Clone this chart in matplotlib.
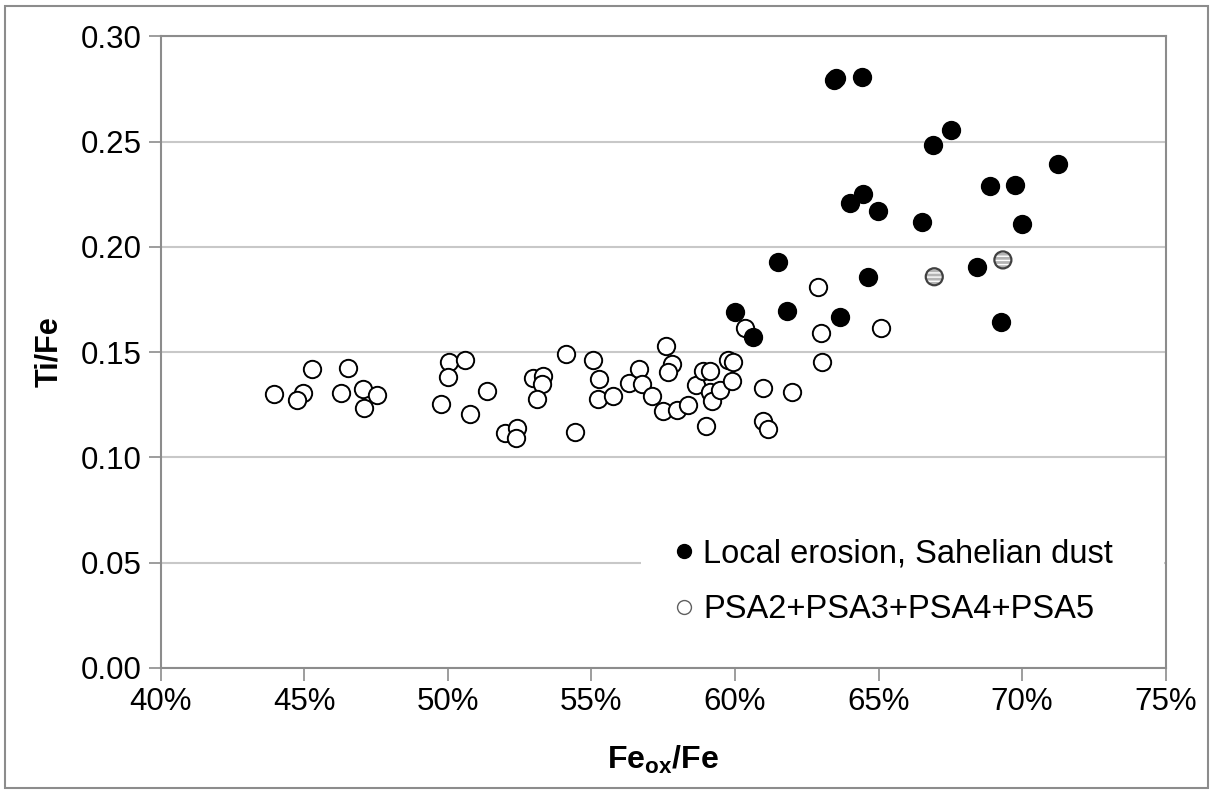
import matplotlib

matplotlib.use("Agg")

import matplotlib.pyplot as plt
from matplotlib.lines import Line2D
from matplotlib.patches import Rectangle
from matplotlib.ticker import FormatStrFormatter, PercentFormatter

plt.rcParams["font.family"] = ["Liberation Sans", "DejaVu Sans"]
plt.rcParams["mathtext.fontset"] = "custom"
plt.rcParams["mathtext.rm"] = "Liberation Sans"
plt.rcParams["mathtext.bf"] = "Liberation Sans:bold"

# Local erosion, Sahelian dust (filled)
fe_ox_local = [63.45, 63.51, 64.42, 67.53, 66.91, 71.26, 68.89, 69.76, 64.01, 64.45,
               64.99, 66.53, 69.99, 61.49, 64.63, 68.44, 69.26, 60.00, 61.80, 63.66,
               60.64]
ti_fe_local = [0.2795, 0.2801, 0.2809, 0.2556, 0.2484, 0.2394, 0.2291, 0.2294, 0.2210, 0.2251,
               0.2172, 0.2120, 0.2109, 0.1930, 0.1858, 0.1903, 0.1642, 0.1689, 0.1697, 0.1668,
               0.1573]

# PSA2+PSA3+PSA4+PSA5 (open)
fe_ox_psa = [43.95, 45.26, 44.95, 44.76, 46.53, 46.28, 47.06, 47.52, 47.08, 50.05,
             50.60, 50.01, 51.38, 49.75, 50.77, 54.11, 52.96, 53.33, 53.27, 53.10,
             51.99, 52.40, 52.36, 54.43, 55.07, 55.28, 55.24, 55.74, 56.32, 56.66,
             56.75, 57.12, 57.60, 57.80, 57.66, 57.51, 57.99, 58.38, 58.63, 58.90,
             59.13, 59.13, 59.19, 59.48, 58.99, 59.75, 59.92, 59.91, 60.99, 60.97,
             61.14, 62.00, 63.00, 63.02, 60.35, 65.09, 62.88]
ti_fe_psa = [0.1301, 0.1420, 0.1304, 0.1272, 0.1424, 0.1304, 0.1325, 0.1298, 0.1236, 0.1454,
             0.1462, 0.1383, 0.1317, 0.1253, 0.1204, 0.1491, 0.1375, 0.1388, 0.1347, 0.1277,
             0.1114, 0.1138, 0.1090, 0.1119, 0.1462, 0.1372, 0.1276, 0.1291, 0.1352, 0.1420,
             0.1347, 0.1291, 0.1530, 0.1443, 0.1404, 0.1221, 0.1225, 0.1249, 0.1344, 0.1412,
             0.1412, 0.1312, 0.1268, 0.1320, 0.1150, 0.1462, 0.1452, 0.1364, 0.1328, 0.1173,
             0.1133, 0.1309, 0.1589, 0.1454, 0.1613, 0.1613, 0.1808]

# two striped (grey) points, not in legend
fe_ox_mixed = [66.94, 69.33]
ti_fe_mixed = [0.1858, 0.1938]

x_ticks = [40, 45, 50, 55, 60, 65, 70, 75]
y_ticks = [0.00, 0.05, 0.10, 0.15, 0.20, 0.25, 0.30]

fig = plt.figure(figsize=(12.13, 7.93), dpi=100)
ax = fig.add_axes([0.1325, 0.158, 0.8285, 0.796])

ax.set_xlim(40, 75)
ax.set_ylim(0, 0.30)
ax.set_xticks(x_ticks)
ax.set_yticks(y_ticks)
ax.xaxis.set_major_formatter(PercentFormatter(xmax=100, decimals=0))
ax.yaxis.set_major_formatter(FormatStrFormatter("%.2f"))

ax.grid(axis="y", color="#c8c8c8", linewidth=1.5)
ax.set_axisbelow(True)
for side in ("left", "bottom", "top", "right"):
    ax.spines[side].set_color("#8c8c8c")
    ax.spines[side].set_linewidth(1.5)
ax.tick_params(axis="both", colors="#8c8c8c", length=9, width=1.2,
               labelsize=22.5, labelcolor="black")
ax.tick_params(axis="x", pad=5)
ax.tick_params(axis="y", pad=4.5)

ax.plot(fe_ox_psa, ti_fe_psa, linestyle="none", marker="o", markersize=12.5,
        markerfacecolor="white", markeredgecolor="black", markeredgewidth=1.4, zorder=3)
ax.plot(fe_ox_local, ti_fe_local, linestyle="none", marker="o", markersize=12.5,
        markerfacecolor="black", markeredgecolor="black", markeredgewidth=1.4, zorder=4)
ax.scatter(fe_ox_mixed, ti_fe_mixed, s=150, facecolor="#b4b4b4", edgecolor="white",
           hatch="----", linewidth=0, zorder=4)
ax.scatter(fe_ox_mixed, ti_fe_mixed, s=150, facecolor="none", edgecolor="#404040",
           linewidth=1.6, zorder=5)

ax.set_ylabel("Ti/Fe", fontsize=22, fontweight="bold", labelpad=12)
ax.set_xlabel(r"$\mathbf{Fe_{ox}/Fe}$", fontsize=23, labelpad=19)

handles = [
    Line2D([], [], linestyle="none", marker="o", markersize=10,
           markerfacecolor="black", markeredgecolor="black"),
    Line2D([], [], linestyle="none", marker="o", markersize=10,
           markerfacecolor="white", markeredgecolor="#606060", markeredgewidth=1.0),
]
# legend box runs to the right edge so the 0.05 gridline is hidden behind it
leg = ax.legend(handles, ["Local erosion, Sahelian dust", "PSA2+PSA3+PSA4+PSA5"],
                loc="lower left", bbox_to_anchor=(0.478, 0.016, 0.52, 0.2), mode="expand",
                fontsize=23.5, frameon=True, fancybox=False, facecolor="white",
                edgecolor="none", framealpha=1.0, handlelength=0.6, handletextpad=0.3,
                labelspacing=0.75, borderpad=1.0, borderaxespad=0.0)

fig.patches.append(Rectangle((0.004, 0.006), 0.992, 0.986, transform=fig.transFigure,
                             fill=False, edgecolor="#8c8c8c", linewidth=1.5))

fig.savefig("out.png", dpi=100)
